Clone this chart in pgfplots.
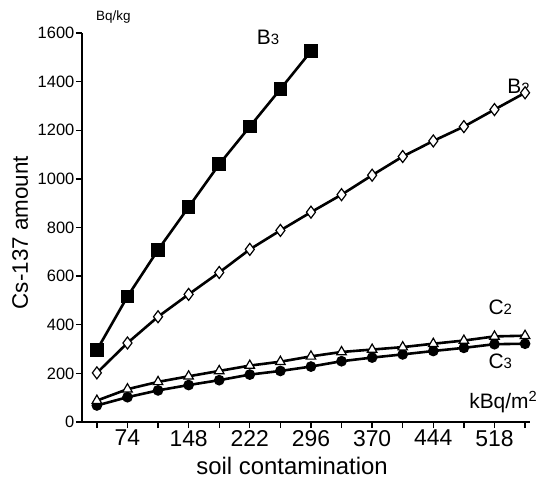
\documentclass[border=0pt]{standalone}
\usepackage{fontspec}
\setmainfont{Liberation Sans}
\usepackage{pgfplots}
\pgfplotsset{compat=1.18}

\pgfplotstableread{
x    b3
37   296
74   516
111  708
148  884
185  1060
222  1215
259  1369
296  1525
}\dataBthree

\pgfplotstableread{
x    b2    c2    c3
37   202   88    68
74   325   135   102
111  433   165   130
148  525   188   152
185  615   210   172
222  710   232   195
259  788   248   210
296  863   270   228
333  935   288   250
370  1015  298   265
407  1092  308   278
444  1156  322   292
481  1215  335   305
518  1285  352   320
555  1354  355   322
}\dataRest

\begin{document}
\begin{tikzpicture}
\path[use as bounding box] (-82bp,-63bp) rectangle (457bp,422bp);
\begin{axis}[
    scale only axis,
    width=448bp, height=389bp,
    xmin=19, xmax=561,
    ymin=0, ymax=1600,
    axis x line*=bottom,
    axis y line*=left,
    axis line style={line width=1.8bp},
    tick align=outside,
    major tick length=6bp,
    minor tick length=6bp,
    tick style={line width=1.3bp, black},
    xtick={74,148,222,296,370,444,518},
    minor xtick={37,111,185,259,333,407,481,555},
    ytick={0,200,...,1600},
    /pgf/number format/assume math mode=true,
    /pgf/number format/1000 sep={},
    xticklabel style={font=\fontsize{23}{23}\selectfont, inner sep=2bp},
    yticklabel style={font=\fontsize{16.5}{16.5}\selectfont, inner sep=1.5bp},
    xlabel={soil contamination},
    ylabel={Cs-137 amount},
    xlabel style={font=\fontsize{24}{24}\selectfont, at={(axis description cs:0.469,-0.113)}, anchor=center},
    ylabel style={font=\fontsize{22.5}{22.5}\selectfont, at={(axis description cs:-0.138,0.487)}, anchor=center},
    clip=false,
]
\addplot[black, line width=2.6bp, mark=square*, mark size=5.5bp, mark options={fill=black, solid}]
    table[x=x, y=b3] {\dataBthree};
\addplot[black, line width=2.6bp, mark=diamond*, mark size=6bp, mark options={fill=white, line width=1.2bp}]
    table[x=x, y=b2] {\dataRest};
\addplot[black, line width=2.6bp, mark=*, mark size=4bp, mark options={fill=black}]
    table[x=x, y=c3] {\dataRest};
\addplot[black, line width=2.6bp, mark=triangle*, mark size=5.5bp, mark options={fill=white, line width=1.2bp}]
    table[x=x, y=c2] {\dataRest};

\node[font=\fontsize{21}{21}\selectfont] at (axis cs:244,1580) {B{\fontsize{15}{15}\selectfont 3}};
\node[font=\fontsize{21}{21}\selectfont] at (axis cs:547,1380) {B{\fontsize{15}{15}\selectfont 2}};
\node[font=\fontsize{21}{21}\selectfont] at (axis cs:525,470) {C{\fontsize{15}{15}\selectfont 2}};
\node[font=\fontsize{21}{21}\selectfont] at (axis cs:525,250) {C{\fontsize{15}{15}\selectfont 3}};
\node[font=\fontsize{21}{21}\selectfont, anchor=east, inner sep=0pt] at (axis cs:570,82) {kBq/m\textsuperscript{2}};
\node[font=\fontsize{13.5}{13.5}\selectfont] at (axis cs:57,1664) {Bq/kg};
\end{axis}
\end{tikzpicture}
\end{document}
